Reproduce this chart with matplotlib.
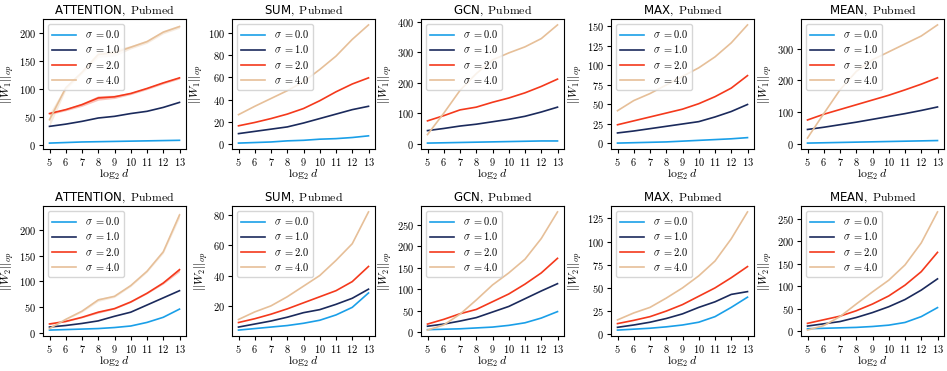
import matplotlib
matplotlib.use("Agg")
import matplotlib.pyplot as plt
from matplotlib.ticker import FuncFormatter, MultipleLocator

plt.rcParams["mathtext.fontset"] = "cm"

log_d = [5, 6, 7, 8, 9, 10, 11, 12, 13]
sigmas = ["0.0", "1.0", "2.0", "4.0"]
colors = ["#1a9fe8", "#1b2a5c", "#f4391c", "#e6bf98"]
models = ["ATTENTION", "SUM", "GCN", "MAX", "MEAN"]

# ||W_1||_op, one list per sigma
w1_attention = [
    [3, 4, 5, 5.5, 6, 6.5, 7, 7.5, 8],
    [33, 37, 42, 48, 51, 56, 60, 67, 76],
    [56, 63, 72, 84, 86, 92, 101, 111, 120],
    [45, 102, 130, 162, 165, 175, 185, 202, 212],
]
w1_sum = [
    [1, 1.5, 2, 3, 3.5, 4.5, 5, 6, 7.5],
    [9.5, 11.5, 13.5, 15.5, 19, 23, 27, 31, 34],
    [16.5, 19.5, 23, 27, 32, 39, 47, 54, 59.5],
    [26.5, 34, 41, 48, 56, 67, 79, 94, 107],
]
w1_gcn = [
    [2, 3, 4, 5, 6, 7, 8, 9, 9],
    [43, 50, 58, 64, 72, 80, 90, 104, 120],
    [75, 92, 111, 120, 136, 150, 167, 188, 212],
    [30, 100, 175, 230, 275, 298, 318, 345, 390],
]
w1_max = [
    [0.5, 1, 1.5, 2, 3, 4, 5, 6, 7.5],
    [13.5, 16, 19, 22, 25, 28, 34, 41, 50],
    [24, 29, 34, 39, 44, 51, 60, 71, 87],
    [42, 55, 64, 75, 86, 97, 111, 129, 152],
]
w1_mean = [
    [2, 3, 4, 5, 6, 7, 8, 9, 10],
    [45, 52, 60, 68, 77, 86, 95, 105, 116],
    [75, 93, 108, 123, 138, 153, 170, 188, 208],
    [18, 95, 170, 228, 265, 290, 315, 340, 375],
]

# ||W_2||_op, one list per sigma
w2_attention = [
    [5, 6, 7, 8, 10, 13, 20, 30, 46],
    [11, 14, 18, 23, 32, 40, 54, 68, 82],
    [17, 22, 30, 40, 47, 60, 77, 97, 123],
    [8, 26, 42, 64, 71, 92, 120, 158, 230],
]
w2_sum = [
    [4, 5, 6, 7, 8.5, 10.5, 14, 19, 28.5],
    [6, 8, 10, 12.5, 15.5, 17.5, 21, 25, 31],
    [9, 11.5, 14.5, 18, 22, 26, 30, 36, 46],
    [11, 16, 20, 26, 33, 40, 50, 61, 82],
]
w2_gcn = [
    [6, 7, 8, 10, 12, 16, 22, 33, 48],
    [14, 19, 26, 34, 47, 60, 78, 96, 113],
    [19, 30, 43, 53, 71, 89, 112, 138, 172],
    [5, 17, 42, 75, 110, 138, 170, 218, 280],
]
w2_max = [
    [4.5, 5.5, 6.5, 8, 10, 13, 19, 29, 40],
    [7.5, 10, 13, 17, 22, 29, 35, 43, 46],
    [11.5, 15, 19, 25, 32, 41, 50, 61, 73],
    [15.5, 23, 29, 39, 50, 63, 79, 103, 132],
]
w2_mean = [
    [5, 6, 7, 8, 10, 13, 19, 32, 52],
    [11, 16, 21, 30, 41, 54, 70, 91, 116],
    [17, 25, 33, 45, 60, 78, 102, 132, 175],
    [2, 12, 32, 60, 87, 113, 147, 196, 265],
]

# half-width of the shaded spread for the noisiest runs
band_att1_s2 = [2, 2, 3, 4, 3, 2, 2, 2, 2]
band_att1_s4 = [12, 4, 3, 5, 6, 3, 3, 3, 3]
band_att2_s2 = [1, 1, 1, 2, 1, 1, 1, 2, 4]
band_att2_s4 = [1, 1, 2, 3, 2, 2, 2, 3, 6]

rows = [
    [w1_attention, w1_sum, w1_gcn, w1_max, w1_mean],
    [w2_attention, w2_sum, w2_gcn, w2_max, w2_mean],
]
bands = {
    (0, 0): {2: band_att1_s2, 3: band_att1_s4},
    (1, 0): {2: band_att2_s2, 3: band_att2_s4},
}
y_steps = [[50, 20, 100, 25, 100], [50, 20, 50, 25, 50]]
y_labels = [r"$||W_1||_{op}$", r"$||W_2||_{op}$"]

W, H = 947, 371
lefts = [43, 232, 421, 611, 801]
tops = [19, 206]
ax_w, ax_h = 143, 130

fig = plt.figure(figsize=(W / 100, H / 100), dpi=100)
math_fmt = FuncFormatter(lambda v, p: f"${v:g}$")

for r in range(2):
    for c in range(5):
        ax = fig.add_axes([lefts[c] / W, 1 - (tops[r] + ax_h) / H, ax_w / W, ax_h / H])
        for k, series in enumerate(rows[r][c]):
            ax.plot(log_d, series, color=colors[k], linewidth=1.2,
                    label=rf"$\sigma\;{{=}}{sigmas[k]}$")
            band = bands.get((r, c), {}).get(k)
            if band is not None:
                lo = [v - b for v, b in zip(series, band)]
                hi = [v + b for v, b in zip(series, band)]
                ax.fill_between(log_d, lo, hi, color=colors[k], alpha=0.3, linewidth=0)
        ax.set_title(models[c] + r"$\mathrm{,\ Pubmed}$", fontsize=8.5, pad=4)
        ax.set_xlabel(r"$\log_2 d$", fontsize=8.5, labelpad=0)
        ax.set_ylabel(y_labels[r], fontsize=8.5, labelpad=2)
        ax.set_xticks(log_d)
        ax.yaxis.set_major_locator(MultipleLocator(y_steps[r][c]))
        ax.xaxis.set_major_formatter(math_fmt)
        ax.yaxis.set_major_formatter(math_fmt)
        ax.tick_params(labelsize=7.5, length=3, pad=2)
        ax.legend(loc="upper left", fontsize=7.5, handlelength=2.3,
                  borderpad=0.4, labelspacing=0.3, handletextpad=0.8,
                  framealpha=0.8)

fig.savefig("out.png", dpi=100)
